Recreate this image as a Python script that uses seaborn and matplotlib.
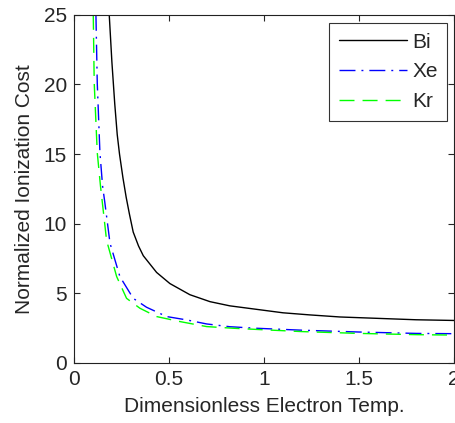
import matplotlib
matplotlib.use("Agg")
import matplotlib.pyplot as plt
import seaborn as sns
import pandas as pd

bi_t = [0.186, 0.20, 0.215, 0.228, 0.24, 0.258, 0.275, 0.292, 0.312, 0.34, 0.365, 0.435, 0.505, 0.61, 0.716, 0.82, 0.96, 1.1, 1.24, 1.4, 1.6, 1.8, 2.0]
bi_v = [25, 21.6, 18.6, 16.4, 15.0, 13.3, 11.9, 10.7, 9.4, 8.4, 7.7, 6.5, 5.7, 4.9, 4.4, 4.1, 3.85, 3.6, 3.45, 3.3, 3.2, 3.1, 3.05]
xe_t = [0.116, 0.123, 0.137, 0.151, 0.163, 0.19, 0.242, 0.312, 0.382, 0.488, 0.593, 0.698, 0.82, 0.96, 1.2, 1.5, 1.8, 2.0]
xe_v = [25, 20.1, 15.1, 12.7, 11.5, 8.6, 6.2, 4.64, 4.0, 3.33, 3.09, 2.8, 2.6, 2.49, 2.35, 2.22, 2.12, 2.1]
kr_t = [0.102, 0.107, 0.123, 0.14, 0.154, 0.172, 0.225, 0.277, 0.347, 0.435, 0.558, 0.698, 0.84, 1.0, 1.2, 1.5, 1.8, 2.0]
kr_v = [25, 20.1, 15.1, 12.7, 11.0, 8.8, 6.2, 4.64, 3.93, 3.33, 2.97, 2.61, 2.49, 2.38, 2.25, 2.12, 2.03, 2.0]

series = ["Bi", "Xe", "Kr"]
colors = {"Bi": "black", "Xe": "#0000ff", "Kr": "#00ff00"}
styles = {"Bi": "-", "Xe": (0, (11.5, 4.3, 1.4, 4.3)), "Kr": (0, (10.8, 5.8))}

df = pd.concat([
    pd.DataFrame({"T": bi_t, "v": bi_v, "s": "Bi"}),
    pd.DataFrame({"T": xe_t, "v": xe_v, "s": "Xe"}),
    pd.DataFrame({"T": kr_t, "v": kr_v, "s": "Kr"}),
])

sns.set_style("ticks")
plt.rcParams["font.family"] = ["Liberation Sans", "DejaVu Sans"]

fig = plt.figure(figsize=(4.56, 4.23), dpi=100)
ax = fig.add_axes([0.162, 0.142, 0.834, 0.823])

for s in series:
    sub = df[df["s"] == s]
    sns.lineplot(data=sub, x="T", y="v", ax=ax, color=colors[s], linestyle=styles[s],
                 linewidth=1.0, sort=False, label=s, estimator=None)

ax.set_xlim(0, 2)
ax.set_ylim(0, 25)
ax.set_xticks([0, 0.5, 1, 1.5, 2])
ax.set_xticklabels(["0", "0.5", "1", "1.5", "2"])
ax.set_yticks([0, 5, 10, 15, 20, 25])
ax.set_xlabel("Dimensionless Electron Temp.", fontsize=15, labelpad=6)
ax.set_ylabel("Normalized Ionization Cost", fontsize=15, labelpad=7)
ax.tick_params(direction="in", top=True, right=True, labelsize=15, length=4, width=0.8, pad=5)
for sp in ax.spines.values():
    sp.set_visible(True)
    sp.set_linewidth(0.8)
    sp.set_color("#222222")

leg = ax.legend(loc="upper right", frameon=True, fancybox=False, fontsize=15,
                handlelength=3.27, handletextpad=0.25, borderpad=0.47, labelspacing=0.51,
                edgecolor="black", borderaxespad=0, bbox_to_anchor=(0.982, 0.977))
leg.get_frame().set_linewidth(0.8)

fig.savefig("out.png", dpi=100)
